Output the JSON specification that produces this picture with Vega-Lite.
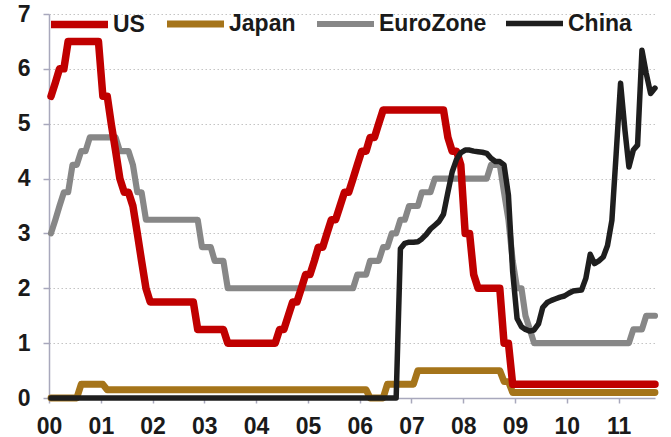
{
  "$schema": "https://vega.github.io/schema/vega-lite/v6.json",
  "width": 606,
  "height": 384,
  "autosize": {"type": "none"},
  "padding": {"left": 49, "top": 14, "right": 16, "bottom": 39},
  "background": "white",
  "config": {"view": {"stroke": null}, "font": "Liberation Sans"},
  "data": {
    "values": [
      {"m": "2000-01-15", "US": 5.5, "Japan": 0, "EuroZone": 3.0, "China": 0},
      {"m": "2000-02-15", "US": 5.75, "Japan": 0, "EuroZone": 3.25, "China": 0},
      {"m": "2000-03-15", "US": 6.0, "Japan": 0, "EuroZone": 3.5, "China": 0},
      {"m": "2000-04-15", "US": 6.0, "Japan": 0, "EuroZone": 3.75, "China": 0},
      {"m": "2000-05-15", "US": 6.5, "Japan": 0, "EuroZone": 3.75, "China": 0},
      {"m": "2000-06-15", "US": 6.5, "Japan": 0, "EuroZone": 4.25, "China": 0},
      {"m": "2000-07-15", "US": 6.5, "Japan": 0, "EuroZone": 4.25, "China": 0},
      {"m": "2000-08-15", "US": 6.5, "Japan": 0.25, "EuroZone": 4.5, "China": 0},
      {"m": "2000-09-15", "US": 6.5, "Japan": 0.25, "EuroZone": 4.5, "China": 0},
      {"m": "2000-10-15", "US": 6.5, "Japan": 0.25, "EuroZone": 4.75, "China": 0},
      {"m": "2000-11-15", "US": 6.5, "Japan": 0.25, "EuroZone": 4.75, "China": 0},
      {"m": "2000-12-15", "US": 6.5, "Japan": 0.25, "EuroZone": 4.75, "China": 0},
      {"m": "2001-01-15", "US": 5.5, "Japan": 0.25, "EuroZone": 4.75, "China": 0},
      {"m": "2001-02-15", "US": 5.5, "Japan": 0.15, "EuroZone": 4.75, "China": 0},
      {"m": "2001-03-15", "US": 5.0, "Japan": 0.15, "EuroZone": 4.75, "China": 0},
      {"m": "2001-04-15", "US": 4.5, "Japan": 0.15, "EuroZone": 4.75, "China": 0},
      {"m": "2001-05-15", "US": 4.0, "Japan": 0.15, "EuroZone": 4.5, "China": 0},
      {"m": "2001-06-15", "US": 3.75, "Japan": 0.15, "EuroZone": 4.5, "China": 0},
      {"m": "2001-07-15", "US": 3.75, "Japan": 0.15, "EuroZone": 4.5, "China": 0},
      {"m": "2001-08-15", "US": 3.5, "Japan": 0.15, "EuroZone": 4.25, "China": 0},
      {"m": "2001-09-15", "US": 3.0, "Japan": 0.15, "EuroZone": 3.75, "China": 0},
      {"m": "2001-10-15", "US": 2.5, "Japan": 0.15, "EuroZone": 3.75, "China": 0},
      {"m": "2001-11-15", "US": 2.0, "Japan": 0.15, "EuroZone": 3.25, "China": 0},
      {"m": "2001-12-15", "US": 1.75, "Japan": 0.15, "EuroZone": 3.25, "China": 0},
      {"m": "2002-01-15", "US": 1.75, "Japan": 0.15, "EuroZone": 3.25, "China": 0},
      {"m": "2002-02-15", "US": 1.75, "Japan": 0.15, "EuroZone": 3.25, "China": 0},
      {"m": "2002-03-15", "US": 1.75, "Japan": 0.15, "EuroZone": 3.25, "China": 0},
      {"m": "2002-04-15", "US": 1.75, "Japan": 0.15, "EuroZone": 3.25, "China": 0},
      {"m": "2002-05-15", "US": 1.75, "Japan": 0.15, "EuroZone": 3.25, "China": 0},
      {"m": "2002-06-15", "US": 1.75, "Japan": 0.15, "EuroZone": 3.25, "China": 0},
      {"m": "2002-07-15", "US": 1.75, "Japan": 0.15, "EuroZone": 3.25, "China": 0},
      {"m": "2002-08-15", "US": 1.75, "Japan": 0.15, "EuroZone": 3.25, "China": 0},
      {"m": "2002-09-15", "US": 1.75, "Japan": 0.15, "EuroZone": 3.25, "China": 0},
      {"m": "2002-10-15", "US": 1.75, "Japan": 0.15, "EuroZone": 3.25, "China": 0},
      {"m": "2002-11-15", "US": 1.25, "Japan": 0.15, "EuroZone": 3.25, "China": 0},
      {"m": "2002-12-15", "US": 1.25, "Japan": 0.15, "EuroZone": 2.75, "China": 0},
      {"m": "2003-01-15", "US": 1.25, "Japan": 0.15, "EuroZone": 2.75, "China": 0},
      {"m": "2003-02-15", "US": 1.25, "Japan": 0.15, "EuroZone": 2.75, "China": 0},
      {"m": "2003-03-15", "US": 1.25, "Japan": 0.15, "EuroZone": 2.5, "China": 0},
      {"m": "2003-04-15", "US": 1.25, "Japan": 0.15, "EuroZone": 2.5, "China": 0},
      {"m": "2003-05-15", "US": 1.25, "Japan": 0.15, "EuroZone": 2.5, "China": 0},
      {"m": "2003-06-15", "US": 1.0, "Japan": 0.15, "EuroZone": 2.0, "China": 0},
      {"m": "2003-07-15", "US": 1.0, "Japan": 0.15, "EuroZone": 2.0, "China": 0},
      {"m": "2003-08-15", "US": 1.0, "Japan": 0.15, "EuroZone": 2.0, "China": 0},
      {"m": "2003-09-15", "US": 1.0, "Japan": 0.15, "EuroZone": 2.0, "China": 0},
      {"m": "2003-10-15", "US": 1.0, "Japan": 0.15, "EuroZone": 2.0, "China": 0},
      {"m": "2003-11-15", "US": 1.0, "Japan": 0.15, "EuroZone": 2.0, "China": 0},
      {"m": "2003-12-15", "US": 1.0, "Japan": 0.15, "EuroZone": 2.0, "China": 0},
      {"m": "2004-01-15", "US": 1.0, "Japan": 0.15, "EuroZone": 2.0, "China": 0},
      {"m": "2004-02-15", "US": 1.0, "Japan": 0.15, "EuroZone": 2.0, "China": 0},
      {"m": "2004-03-15", "US": 1.0, "Japan": 0.15, "EuroZone": 2.0, "China": 0},
      {"m": "2004-04-15", "US": 1.0, "Japan": 0.15, "EuroZone": 2.0, "China": 0},
      {"m": "2004-05-15", "US": 1.0, "Japan": 0.15, "EuroZone": 2.0, "China": 0},
      {"m": "2004-06-15", "US": 1.25, "Japan": 0.15, "EuroZone": 2.0, "China": 0},
      {"m": "2004-07-15", "US": 1.25, "Japan": 0.15, "EuroZone": 2.0, "China": 0},
      {"m": "2004-08-15", "US": 1.5, "Japan": 0.15, "EuroZone": 2.0, "China": 0},
      {"m": "2004-09-15", "US": 1.75, "Japan": 0.15, "EuroZone": 2.0, "China": 0},
      {"m": "2004-10-15", "US": 1.75, "Japan": 0.15, "EuroZone": 2.0, "China": 0},
      {"m": "2004-11-15", "US": 2.0, "Japan": 0.15, "EuroZone": 2.0, "China": 0},
      {"m": "2004-12-15", "US": 2.25, "Japan": 0.15, "EuroZone": 2.0, "China": 0},
      {"m": "2005-01-15", "US": 2.25, "Japan": 0.15, "EuroZone": 2.0, "China": 0},
      {"m": "2005-02-15", "US": 2.5, "Japan": 0.15, "EuroZone": 2.0, "China": 0},
      {"m": "2005-03-15", "US": 2.75, "Japan": 0.15, "EuroZone": 2.0, "China": 0},
      {"m": "2005-04-15", "US": 2.75, "Japan": 0.15, "EuroZone": 2.0, "China": 0},
      {"m": "2005-05-15", "US": 3.0, "Japan": 0.15, "EuroZone": 2.0, "China": 0},
      {"m": "2005-06-15", "US": 3.25, "Japan": 0.15, "EuroZone": 2.0, "China": 0},
      {"m": "2005-07-15", "US": 3.25, "Japan": 0.15, "EuroZone": 2.0, "China": 0},
      {"m": "2005-08-15", "US": 3.5, "Japan": 0.15, "EuroZone": 2.0, "China": 0},
      {"m": "2005-09-15", "US": 3.75, "Japan": 0.15, "EuroZone": 2.0, "China": 0},
      {"m": "2005-10-15", "US": 3.75, "Japan": 0.15, "EuroZone": 2.0, "China": 0},
      {"m": "2005-11-15", "US": 4.0, "Japan": 0.15, "EuroZone": 2.0, "China": 0},
      {"m": "2005-12-15", "US": 4.25, "Japan": 0.15, "EuroZone": 2.25, "China": 0},
      {"m": "2006-01-15", "US": 4.5, "Japan": 0.15, "EuroZone": 2.25, "China": 0},
      {"m": "2006-02-15", "US": 4.5, "Japan": 0.15, "EuroZone": 2.25, "China": 0},
      {"m": "2006-03-15", "US": 4.75, "Japan": 0, "EuroZone": 2.5, "China": 0},
      {"m": "2006-04-15", "US": 4.75, "Japan": 0, "EuroZone": 2.5, "China": 0},
      {"m": "2006-05-15", "US": 5.0, "Japan": 0, "EuroZone": 2.5, "China": 0},
      {"m": "2006-06-15", "US": 5.25, "Japan": 0, "EuroZone": 2.75, "China": 0},
      {"m": "2006-07-15", "US": 5.25, "Japan": 0.25, "EuroZone": 2.75, "China": 0},
      {"m": "2006-08-15", "US": 5.25, "Japan": 0.25, "EuroZone": 3.0, "China": 0},
      {"m": "2006-09-15", "US": 5.25, "Japan": 0.25, "EuroZone": 3.0, "China": 0},
      {"m": "2006-10-15", "US": 5.25, "Japan": 0.25, "EuroZone": 3.25, "China": 2.72},
      {"m": "2006-11-15", "US": 5.25, "Japan": 0.25, "EuroZone": 3.25, "China": 2.82},
      {"m": "2006-12-15", "US": 5.25, "Japan": 0.25, "EuroZone": 3.5, "China": 2.84},
      {"m": "2007-01-15", "US": 5.25, "Japan": 0.25, "EuroZone": 3.5, "China": 2.84},
      {"m": "2007-02-15", "US": 5.25, "Japan": 0.5, "EuroZone": 3.5, "China": 2.85},
      {"m": "2007-03-15", "US": 5.25, "Japan": 0.5, "EuroZone": 3.75, "China": 2.9},
      {"m": "2007-04-15", "US": 5.25, "Japan": 0.5, "EuroZone": 3.75, "China": 2.98},
      {"m": "2007-05-15", "US": 5.25, "Japan": 0.5, "EuroZone": 3.75, "China": 3.08},
      {"m": "2007-06-15", "US": 5.25, "Japan": 0.5, "EuroZone": 4.0, "China": 3.15},
      {"m": "2007-07-15", "US": 5.25, "Japan": 0.5, "EuroZone": 4.0, "China": 3.22},
      {"m": "2007-08-15", "US": 5.25, "Japan": 0.5, "EuroZone": 4.0, "China": 3.35},
      {"m": "2007-09-15", "US": 4.75, "Japan": 0.5, "EuroZone": 4.0, "China": 3.75},
      {"m": "2007-10-15", "US": 4.5, "Japan": 0.5, "EuroZone": 4.0, "China": 4.12},
      {"m": "2007-11-15", "US": 4.5, "Japan": 0.5, "EuroZone": 4.0, "China": 4.35},
      {"m": "2007-12-15", "US": 4.25, "Japan": 0.5, "EuroZone": 4.0, "China": 4.47},
      {"m": "2008-01-15", "US": 3.0, "Japan": 0.5, "EuroZone": 4.0, "China": 4.52},
      {"m": "2008-02-15", "US": 3.0, "Japan": 0.5, "EuroZone": 4.0, "China": 4.52},
      {"m": "2008-03-15", "US": 2.25, "Japan": 0.5, "EuroZone": 4.0, "China": 4.5},
      {"m": "2008-04-15", "US": 2.0, "Japan": 0.5, "EuroZone": 4.0, "China": 4.49},
      {"m": "2008-05-15", "US": 2.0, "Japan": 0.5, "EuroZone": 4.0, "China": 4.48},
      {"m": "2008-06-15", "US": 2.0, "Japan": 0.5, "EuroZone": 4.0, "China": 4.46},
      {"m": "2008-07-15", "US": 2.0, "Japan": 0.5, "EuroZone": 4.25, "China": 4.37},
      {"m": "2008-08-15", "US": 2.0, "Japan": 0.5, "EuroZone": 4.25, "China": 4.31},
      {"m": "2008-09-15", "US": 2.0, "Japan": 0.5, "EuroZone": 4.25, "China": 4.31},
      {"m": "2008-10-15", "US": 1.0, "Japan": 0.3, "EuroZone": 3.75, "China": 4.25},
      {"m": "2008-11-15", "US": 1.0, "Japan": 0.3, "EuroZone": 3.25, "China": 3.7},
      {"m": "2008-12-15", "US": 0.25, "Japan": 0.1, "EuroZone": 2.5, "China": 2.3},
      {"m": "2009-01-15", "US": 0.25, "Japan": 0.1, "EuroZone": 2.0, "China": 1.45},
      {"m": "2009-02-15", "US": 0.25, "Japan": 0.1, "EuroZone": 2.0, "China": 1.3},
      {"m": "2009-03-15", "US": 0.25, "Japan": 0.1, "EuroZone": 1.5, "China": 1.25},
      {"m": "2009-04-15", "US": 0.25, "Japan": 0.1, "EuroZone": 1.25, "China": 1.22},
      {"m": "2009-05-15", "US": 0.25, "Japan": 0.1, "EuroZone": 1.0, "China": 1.24},
      {"m": "2009-06-15", "US": 0.25, "Japan": 0.1, "EuroZone": 1.0, "China": 1.35},
      {"m": "2009-07-15", "US": 0.25, "Japan": 0.1, "EuroZone": 1.0, "China": 1.65},
      {"m": "2009-08-15", "US": 0.25, "Japan": 0.1, "EuroZone": 1.0, "China": 1.74},
      {"m": "2009-09-15", "US": 0.25, "Japan": 0.1, "EuroZone": 1.0, "China": 1.78},
      {"m": "2009-10-15", "US": 0.25, "Japan": 0.1, "EuroZone": 1.0, "China": 1.81},
      {"m": "2009-11-15", "US": 0.25, "Japan": 0.1, "EuroZone": 1.0, "China": 1.84},
      {"m": "2009-12-15", "US": 0.25, "Japan": 0.1, "EuroZone": 1.0, "China": 1.86},
      {"m": "2010-01-15", "US": 0.25, "Japan": 0.1, "EuroZone": 1.0, "China": 1.91},
      {"m": "2010-02-15", "US": 0.25, "Japan": 0.1, "EuroZone": 1.0, "China": 1.95},
      {"m": "2010-03-15", "US": 0.25, "Japan": 0.1, "EuroZone": 1.0, "China": 1.96},
      {"m": "2010-04-15", "US": 0.25, "Japan": 0.1, "EuroZone": 1.0, "China": 1.97},
      {"m": "2010-05-15", "US": 0.25, "Japan": 0.1, "EuroZone": 1.0, "China": 2.18},
      {"m": "2010-06-15", "US": 0.25, "Japan": 0.1, "EuroZone": 1.0, "China": 2.62},
      {"m": "2010-07-15", "US": 0.25, "Japan": 0.1, "EuroZone": 1.0, "China": 2.45},
      {"m": "2010-08-15", "US": 0.25, "Japan": 0.1, "EuroZone": 1.0, "China": 2.5},
      {"m": "2010-09-15", "US": 0.25, "Japan": 0.1, "EuroZone": 1.0, "China": 2.57},
      {"m": "2010-10-15", "US": 0.25, "Japan": 0.1, "EuroZone": 1.0, "China": 2.78},
      {"m": "2010-11-15", "US": 0.25, "Japan": 0.1, "EuroZone": 1.0, "China": 3.24},
      {"m": "2010-12-15", "US": 0.25, "Japan": 0.1, "EuroZone": 1.0, "China": 4.45},
      {"m": "2011-01-15", "US": 0.25, "Japan": 0.1, "EuroZone": 1.0, "China": 5.74},
      {"m": "2011-02-15", "US": 0.25, "Japan": 0.1, "EuroZone": 1.0, "China": 4.88},
      {"m": "2011-03-15", "US": 0.25, "Japan": 0.1, "EuroZone": 1.0, "China": 4.21},
      {"m": "2011-04-15", "US": 0.25, "Japan": 0.1, "EuroZone": 1.25, "China": 4.52},
      {"m": "2011-05-15", "US": 0.25, "Japan": 0.1, "EuroZone": 1.25, "China": 4.61},
      {"m": "2011-06-15", "US": 0.25, "Japan": 0.1, "EuroZone": 1.25, "China": 6.34},
      {"m": "2011-07-15", "US": 0.25, "Japan": 0.1, "EuroZone": 1.5, "China": 5.92},
      {"m": "2011-08-15", "US": 0.25, "Japan": 0.1, "EuroZone": 1.5, "China": 5.55},
      {"m": "2011-09-15", "US": 0.25, "Japan": 0.1, "EuroZone": 1.5, "China": 5.65}
    ]
  },
  "transform": [
    {"fold": ["Japan", "EuroZone", "US", "China"], "as": ["series", "rate"]}
  ],
  "mark": {"type": "line", "strokeCap": "round", "strokeJoin": "round", "clip": false},
  "encoding": {
    "x": {
      "field": "m",
      "type": "temporal",
      "scale": {"domain": ["2000-01-01", "2011-09-15"]},
      "axis": {
        "title": null,
        "format": "%y",
        "tickCount": {"interval": "year", "step": 1},
        "grid": false,
        "domainColor": "#a8a8bc",
        "domainWidth": 1.5,
        "tickColor": "#a8a8bc",
        "tickWidth": 1.5,
        "tickSize": 5,
        "labelPadding": 12,
        "labelFont": "Liberation Sans",
        "labelFontSize": 23,
        "labelFontWeight": "bold",
        "labelColor": "#1a1a1a",
        "labelFlush": false,
        "labelOverlap": false
      }
    },
    "y": {
      "field": "rate",
      "type": "quantitative",
      "scale": {"domain": [0, 7], "nice": false},
      "axis": {
        "title": null,
        "values": [0, 1, 2, 3, 4, 5, 6, 7],
        "grid": true,
        "gridColor": "#c4c4c4",
        "gridDash": [1.5, 2.5],
        "gridWidth": 1.2,
        "domainColor": "#a8a8bc",
        "domainWidth": 1.5,
        "tickColor": "#a8a8bc",
        "tickWidth": 1.5,
        "tickSize": 6,
        "labelPadding": 13,
        "labelFont": "Liberation Sans",
        "labelFontSize": 23,
        "labelFontWeight": "bold",
        "labelColor": "#1a1a1a"
      }
    },
    "color": {
      "field": "series",
      "type": "nominal",
      "scale": {
        "domain": ["US", "Japan", "EuroZone", "China"],
        "range": ["#c00000", "#a5741a", "#878787", "#1e1e1e"]
      },
      "legend": {
        "title": null,
        "orient": "none",
        "legendX": -2,
        "legendY": -22,
        "direction": "horizontal",
        "columns": 4,
        "gridAlign": "none",
        "padding": 0,
        "symbolType": "stroke",
        "symbolSize": 3249,
        "labelFont": "Liberation Sans",
        "labelFontSize": 23,
        "labelFontWeight": "bold",
        "labelColor": "#1a1a1a",
        "labelOffset": 1,
        "columnPadding": 8
      }
    },
    "strokeWidth": {
      "field": "series",
      "type": "nominal",
      "scale": {
        "domain": ["US", "Japan", "EuroZone", "China"],
        "range": [7.5, 5.5, 5.5, 5.5]
      },
      "legend": {
        "title": null,
        "orient": "none",
        "legendX": -2,
        "legendY": -22,
        "direction": "horizontal",
        "columns": 4,
        "gridAlign": "none",
        "padding": 0,
        "symbolType": "stroke",
        "symbolSize": 3249,
        "labelFont": "Liberation Sans",
        "labelFontSize": 23,
        "labelFontWeight": "bold",
        "labelColor": "#1a1a1a",
        "labelOffset": 1,
        "columnPadding": 8
      }
    }
  }
}
